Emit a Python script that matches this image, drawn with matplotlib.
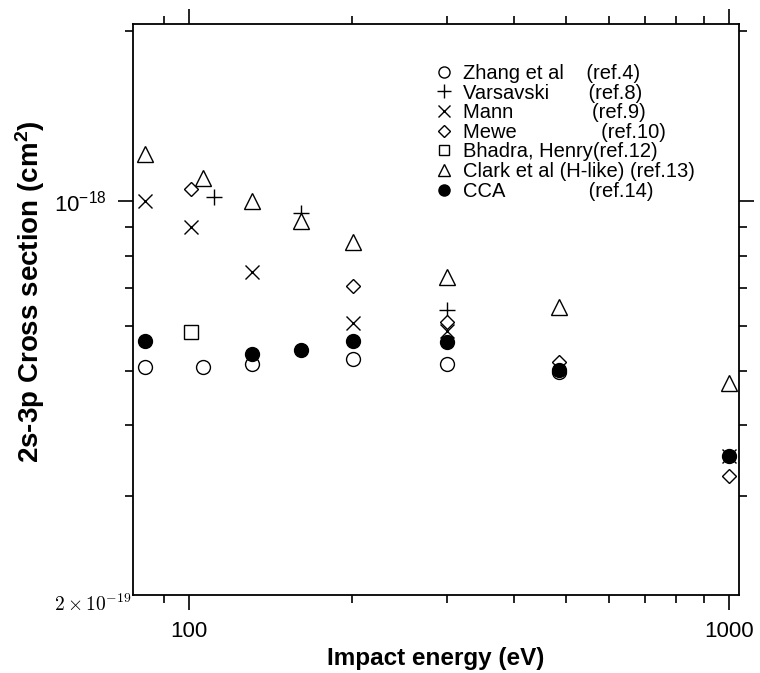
import matplotlib.pyplot as plt
import matplotlib.ticker as mticker
import numpy as np

plt.rcParams['mathtext.fontset'] = 'cm'

# 2s-3p cross sections (cm^2) vs impact energy (eV)
zhang_e = [83, 106, 131, 201, 301, 485]
zhang_s = [5.08e-19, 5.08e-19, 5.14e-19, 5.25e-19, 5.14e-19, 4.98e-19]

vars_e = [111, 161, 301]
vars_s = [1.016e-18, 0.952e-18, 6.41e-19]

mann_e = [83, 101, 131, 201, 301, 1000]
mann_s = [1.0e-18, 0.899e-18, 7.48e-19, 6.08e-19, 5.88e-19, 3.53e-19]

mewe_e = [101, 201, 301, 485, 1000]
mewe_s = [1.05e-18, 7.07e-19, 6.10e-19, 5.18e-19, 3.25e-19]

bhadra_e = [101]
bhadra_s = [5.86e-19]

clark_e = [83, 106, 131, 161, 201, 301, 485, 1000]
clark_s = [1.21e-18, 1.10e-18, 1.0e-18, 0.921e-18, 0.846e-18, 7.33e-19, 6.49e-19, 4.76e-19]

cca_e = [83, 131, 161, 201, 301, 485, 1000]
cca_s = [5.65e-19, 5.36e-19, 5.44e-19, 5.65e-19, 5.62e-19, 5.01e-19, 3.53e-19]

labels = ["Zhang et al    (ref.4)",
          "Varsavski       (ref.8)",
          "Mann              (ref.9)",
          "Mewe               (ref.10)",
          "Bhadra, Henry(ref.12)",
          "Clark et al (H-like) (ref.13)",
          "CCA               (ref.14)"]

fig = plt.figure(figsize=(7.6, 6.73), dpi=100)
ax = fig.add_axes([0.175, 0.1159, 0.797, 0.8484])

ax.plot(zhang_e, zhang_s, 'o', ms=10, mfc='white', mec='black', mew=1, ls='none', label=labels[0])
ax.plot(vars_e, vars_s, '+', ms=12, mec='black', mew=1, ls='none', label=labels[1])
ax.plot(mann_e, mann_s, 'x', ms=10, mec='black', mew=1, ls='none', label=labels[2])
ax.plot(mewe_e, mewe_s, 'D', ms=7.5, mfc='white', mec='black', mew=1, ls='none', label=labels[3])
ax.plot(bhadra_e, bhadra_s, 's', ms=9.5, mfc='white', mec='black', mew=1, ls='none', label=labels[4])
ax.plot(clark_e, clark_s, '^', ms=11, mfc='white', mec='black', mew=1, ls='none', label=labels[5])
ax.plot(cca_e, cca_s, 'o', ms=10, mfc='black', mec='black', ls='none', label=labels[6])

ax.set_xscale('log')
ax.set_yscale('log')
ax.set_xlim(78.7, 1044)
ax.set_ylim(2e-19, 2.06e-18)

ax.xaxis.set_major_locator(mticker.FixedLocator([100, 1000]))
ax.xaxis.set_major_formatter(mticker.FixedFormatter(['100', '1000']))
ax.xaxis.set_minor_locator(mticker.FixedLocator([90, 200, 300, 400, 500, 600, 700, 800, 900]))
ax.xaxis.set_minor_formatter(mticker.NullFormatter())

ax.yaxis.set_major_locator(mticker.FixedLocator([1e-18]))
ax.yaxis.set_major_formatter(mticker.FixedFormatter([r'$\mathregular{10^{-18}}$']))
ax.yaxis.set_minor_locator(mticker.FixedLocator([3e-19, 4e-19, 5e-19, 6e-19, 7e-19, 8e-19, 9e-19, 2e-18]))
ax.yaxis.set_minor_formatter(mticker.NullFormatter())

ax.tick_params(which='both', direction='out', top=True, right=True, width=1.2, colors='black')
ax.tick_params(which='major', length=11, labelsize=16, pad=8)
ax.tick_params(which='minor', length=6)
for t in ax.get_xticklabels() + ax.get_yticklabels():
    t.set_family(['Liberation Sans', 'DejaVu Sans'])

for s in ax.spines.values():
    s.set_linewidth(1.3)

fig.text(0.173, 1 - 604 / 673, r'$2 \times 10^{-19}$', ha='right', va='center', fontsize=14)

fig.text(0.5737, 1 - 659 / 673, 'Impact energy (eV)', ha='center', va='center',
         fontsize=17.5, fontweight='bold', family=['Liberation Sans', 'DejaVu Sans'])
fig.text(0.04, 1 - 292 / 673, r'2s-3p Cross section (cm$\mathregular{^2}$)', rotation=90,
         ha='center', va='center', fontsize=20, fontweight='bold',
         family=['Liberation Sans', 'DejaVu Sans'])

ax.legend(loc='upper left', bbox_to_anchor=(0.571, 0.905), bbox_transform=fig.transFigure,
          frameon=False, handlelength=1, handletextpad=0.45,
          labelspacing=0.03, markerscale=0.8, borderpad=0, borderaxespad=0,
          prop={'family': ['Liberation Sans', 'DejaVu Sans'], 'size': 14.5})

fig.savefig('out.png', dpi=100)
